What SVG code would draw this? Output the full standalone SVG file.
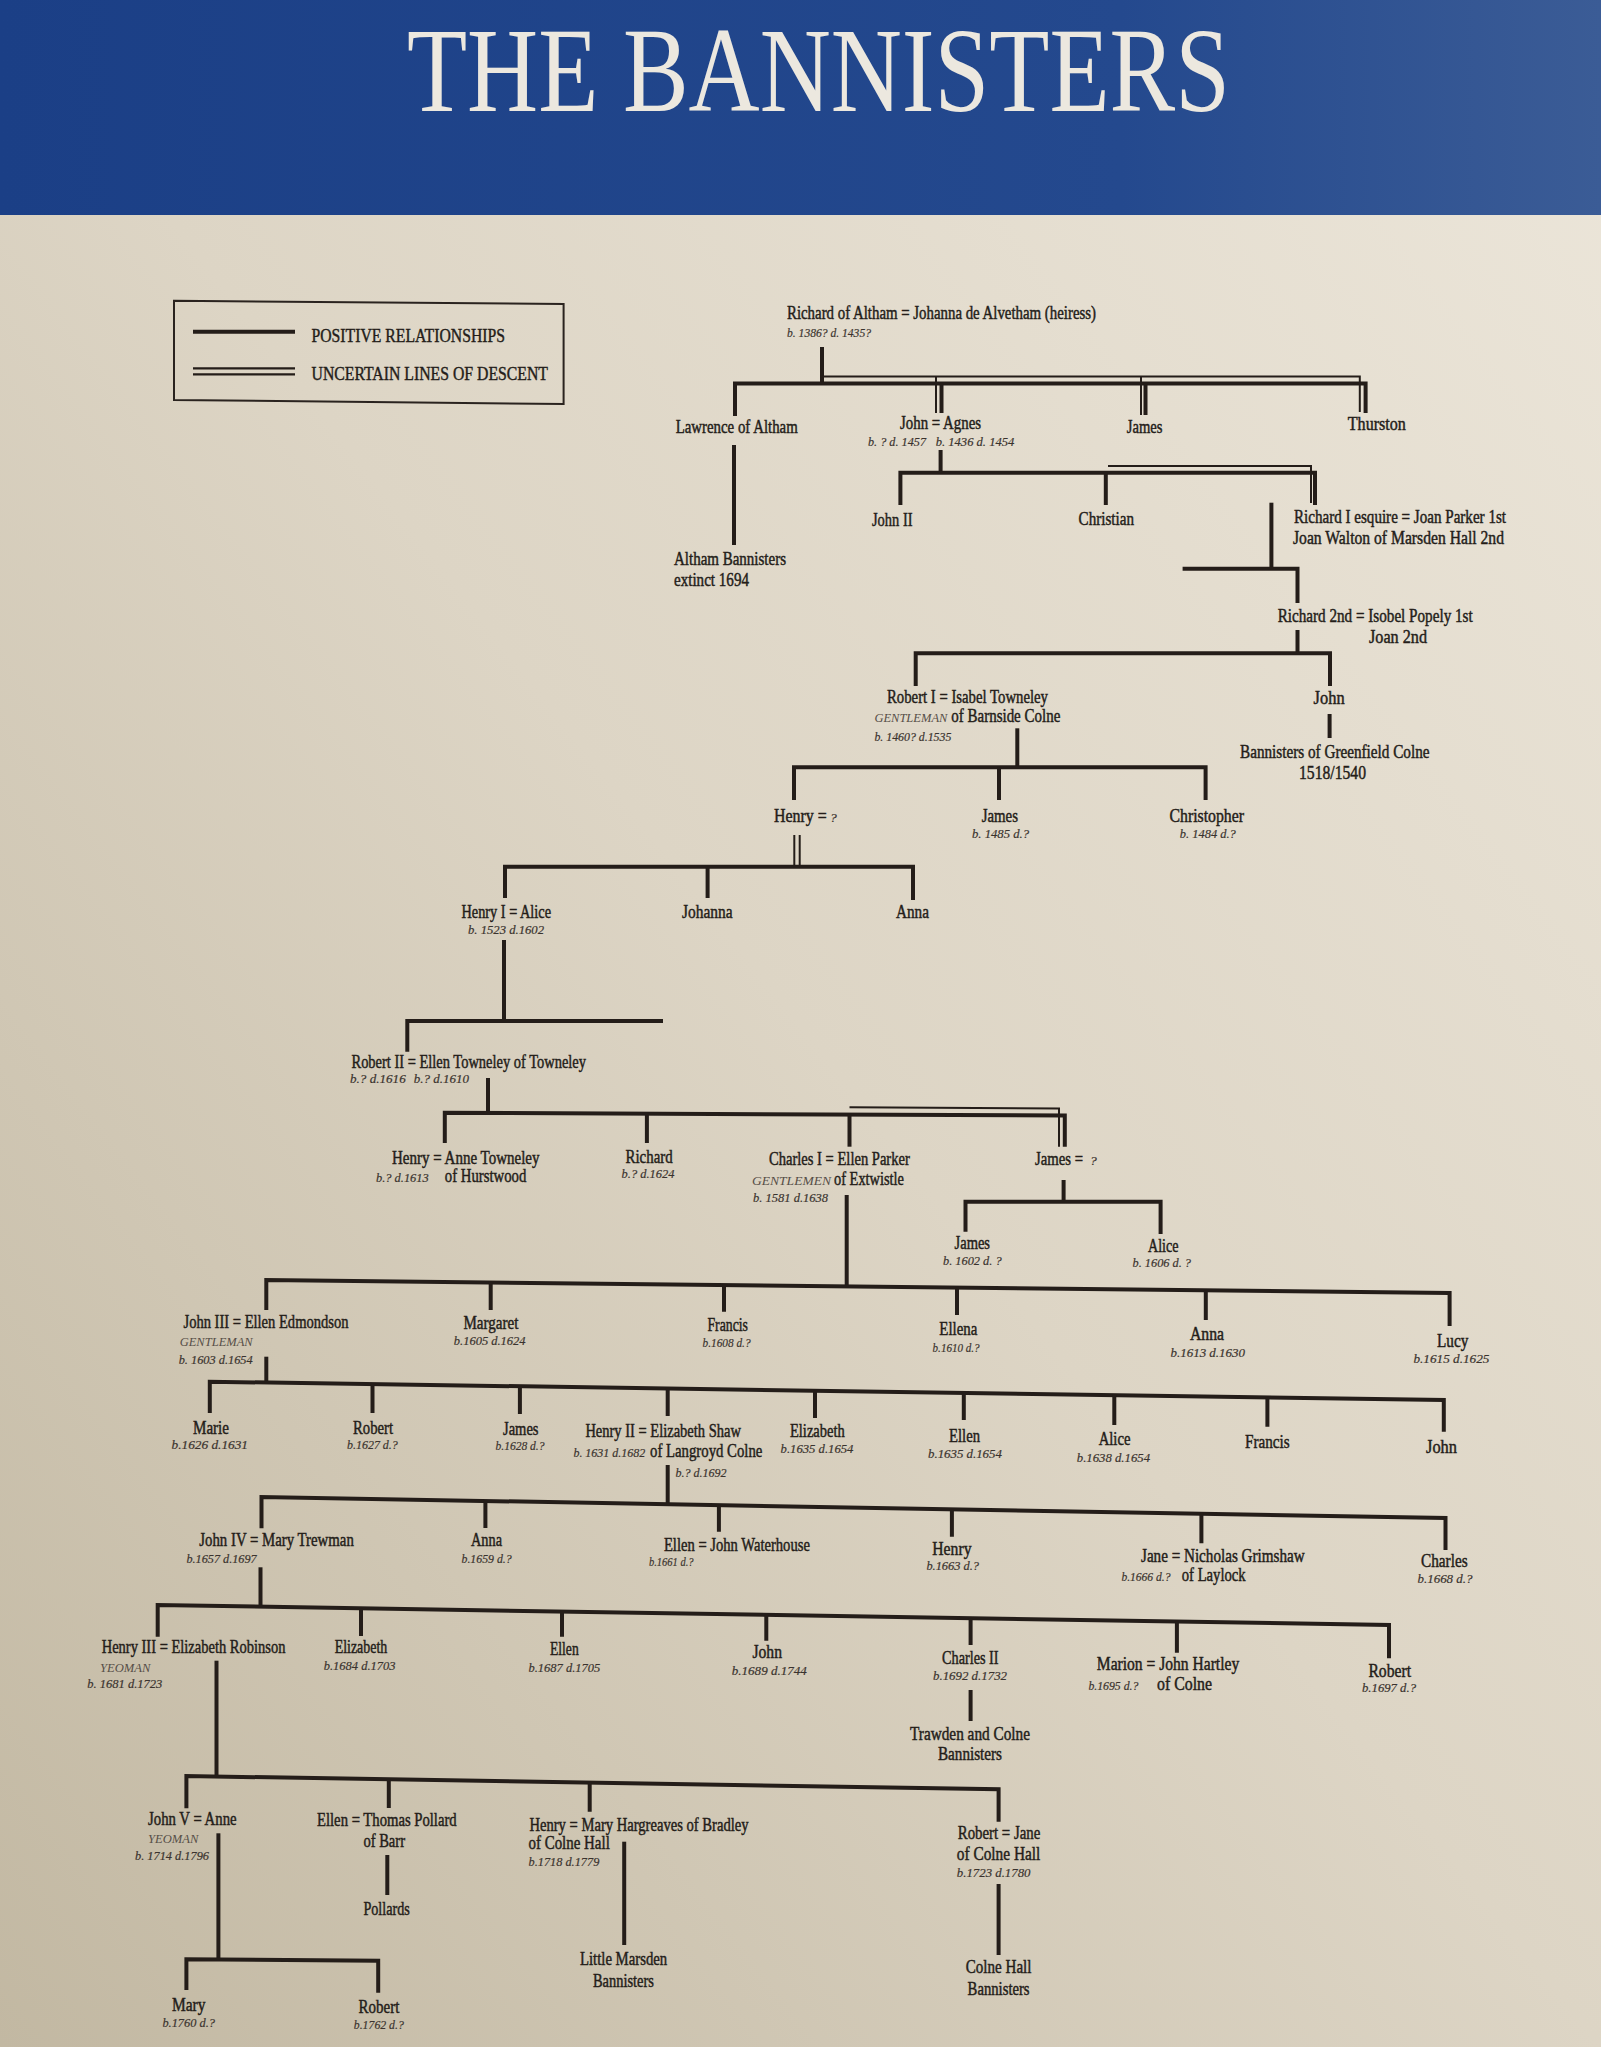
<svg xmlns="http://www.w3.org/2000/svg" width="1601" height="2047" viewBox="0 0 1601 2047">
<defs>
<linearGradient id="paper" x1="1" y1="0" x2="0" y2="1">
<stop offset="0" stop-color="#ece6da"/>
<stop offset="0.5" stop-color="#ddd5c5"/>
<stop offset="1" stop-color="#c2b8a2"/>
</linearGradient>
<linearGradient id="blue" x1="0" y1="0" x2="1" y2="0">
<stop offset="0" stop-color="#1b3f86"/>
<stop offset="0.7" stop-color="#24498e"/>
<stop offset="1" stop-color="#3b5c96"/>
</linearGradient>
<style>
.ln{fill:none;stroke:#241d19;stroke-width:4;stroke-linejoin:miter;stroke-linecap:butt}
.tn{fill:none;stroke:#241d19;stroke-width:2;stroke-linejoin:miter}
text{font-family:"Liberation Serif","DejaVu Serif",serif;fill:#241d19}
.nm{font-size:18px;stroke:#241d19;stroke-width:0.45px}
.dt{font-size:13.5px;font-style:italic;fill:#3a332e;stroke:#3a332e;stroke-width:0.2px}
.rk{font-size:13px;font-style:italic;fill:#564e47}
.lg{font-size:18px;stroke:#241d19;stroke-width:0.4px}
.tt{font-size:120px;fill:#ece8df}
</style>
</defs>
<rect x="0" y="0" width="1601" height="2047" fill="url(#paper)"/>
<g id="header">
<rect x="0" y="0" width="1601" height="215" fill="url(#blue)"/>
<text class="tt" x="407" y="111" textLength="823" lengthAdjust="spacingAndGlyphs">THE BANNISTERS</text>
</g>
<g id="legend">
<path d="M174 300.7 L563.6 304 L563.6 404 L174 400 Z" fill="none" stroke="#2a231f" stroke-width="2"/>
<line x1="193" y1="331.7" x2="295" y2="331.7" stroke="#241d19" stroke-width="4"/>
<line x1="193" y1="368.3" x2="295" y2="368.3" stroke="#241d19" stroke-width="2.3"/>
<line x1="193" y1="374.3" x2="295" y2="374.3" stroke="#241d19" stroke-width="2.3"/>
<text class="lg" x="311.5" y="341.7" textLength="193.5" lengthAdjust="spacingAndGlyphs">POSITIVE RELATIONSHIPS</text>
<text class="lg" x="311.5" y="380" textLength="236.5" lengthAdjust="spacingAndGlyphs">UNCERTAIN LINES OF DESCENT</text>
</g>
<g id="connectors">
<path class="ln" d="M822 347 V383.5"/>
<path class="ln" d="M735 416 V383.5 H1365.6 V413"/>
<path class="ln" d="M941.5 383.5 V413"/>
<path class="ln" d="M1145.5 383.5 V415"/>
<path class="tn" d="M822 376.5 H1359.8 V412"/>
<path class="tn" d="M936 376.5 V413"/>
<path class="tn" d="M1141 376.5 V415"/>
<path class="ln" d="M734 445 V545"/>
<path class="ln" d="M940.6 450 V472.7"/>
<path class="ln" d="M900.4 505 V472.7 H1315 V505"/>
<path class="ln" d="M1105.8 472.7 V505"/>
<path class="tn" d="M1108 466 H1311 V503"/>
<path class="ln" d="M1271.4 502.7 V568.7"/>
<path class="ln" d="M1182.6 568.7 H1297.5 V603"/>
<path class="ln" d="M1297.5 630 V653.3"/>
<path class="ln" d="M915.7 686 V653.3 H1330 V686"/>
<path class="ln" d="M1329.6 714 V738"/>
<path class="ln" d="M1017.3 728.3 V767.3"/>
<path class="ln" d="M794 800 V767.3 H1205.6 V800"/>
<path class="ln" d="M999 767.3 V800"/>
<path class="tn" d="M794.3 835 V866.7"/>
<path class="tn" d="M799.7 835 V866.7"/>
<path class="ln" d="M505 898 V866.7 H913 V900"/>
<path class="ln" d="M707.6 866.7 V898"/>
<path class="ln" d="M504 940 V1021"/>
<path class="ln" d="M407.3 1051.7 V1021 H663"/>
<path class="ln" d="M488 1078 V1112.7"/>
<path class="ln" d="M444.8 1143 V1112.7 L1064.8 1115.5 V1146.7"/>
<path class="ln" d="M646.9 1113.9 V1143"/>
<path class="ln" d="M849.5 1114.7 V1146.7"/>
<path class="tn" d="M849.5 1107.3 L1059 1108.5 V1146.7"/>
<path class="ln" d="M1063.6 1180 V1201.7"/>
<path class="ln" d="M965.5 1231.7 V1201.7 H1160.6 V1234"/>
<path class="ln" d="M846.7 1195 V1286.4"/>
<path class="ln" d="M266.3 1310 V1280 L1449.6 1293 V1326"/>
<path class="ln" d="M490.7 1282.5 V1310 M724 1285 V1311.7 M957 1287.6 V1315 M1205.8 1290.3 V1320"/>
<path class="ln" d="M266.3 1356.7 V1382.5"/>
<path class="ln" d="M209.8 1413 V1381.7 L1443.8 1400 V1431.7"/>
<path class="ln" d="M372.5 1384.1 V1413 M519.9 1386.3 V1414 M667.7 1388.5 V1416 M815 1390.7 V1418 M963.8 1392.9 V1420 M1114.3 1395.1 V1425 M1267.4 1397.4 V1426.7"/>
<path class="ln" d="M667.7 1465 V1504.2"/>
<path class="ln" d="M261.5 1528.3 V1497 L1445.5 1518 V1550"/>
<path class="ln" d="M485.4 1501 V1528 M718.9 1505.1 V1531.7 M951.9 1509.2 V1536.7 M1201.4 1513.7 V1543.3"/>
<path class="ln" d="M260.5 1567.3 V1606.7"/>
<path class="ln" d="M157.7 1636.7 V1605 L1389 1625 V1658.3"/>
<path class="ln" d="M361 1608.3 V1636 M562 1611.6 V1636.7 M766.3 1614.9 V1640.7 M970.6 1618.2 V1645 M1176.9 1621.6 V1652.7"/>
<path class="ln" d="M970.6 1690 V1721"/>
<path class="ln" d="M216.5 1660.7 V1776.5"/>
<path class="ln" d="M186.4 1808.3 V1776 L998.6 1789.3 V1821.7"/>
<path class="ln" d="M388.8 1779.3 V1808 M589.7 1782.6 V1811.7"/>
<path class="ln" d="M218.4 1833.3 V1959.3"/>
<path class="ln" d="M186.4 1990 V1959.3 L378.2 1960.7 V1992.7"/>
<path class="ln" d="M387.3 1855 V1895"/>
<path class="ln" d="M624.2 1841.7 V1945"/>
<path class="ln" d="M998.6 1884 V1955"/>
</g>
<g id="n-richard-altham">
<text class="nm" x="787" y="319" textLength="309" lengthAdjust="spacingAndGlyphs">Richard of Altham = Johanna de Alvetham (heiress)</text>
<text class="dt" x="787" y="337" textLength="84" lengthAdjust="spacingAndGlyphs">b. 1386? d. 1435?</text>
</g>
<g id="n-lawrence">
<text class="nm" x="675.7" y="433.3" textLength="122" lengthAdjust="spacingAndGlyphs">Lawrence of Altham</text>
</g>
<g id="n-altham-bannisters">
<text class="nm" x="674" y="565" textLength="112" lengthAdjust="spacingAndGlyphs">Altham Bannisters</text>
<text class="nm" x="674" y="586" textLength="75" lengthAdjust="spacingAndGlyphs">extinct 1694</text>
</g>
<g id="n-john-agnes">
<text class="nm" x="900" y="429" textLength="81" lengthAdjust="spacingAndGlyphs">John = Agnes</text>
<text class="dt" x="868" y="445.7" textLength="58" lengthAdjust="spacingAndGlyphs">b. ? d. 1457</text>
<text class="dt" x="935.7" y="445.7" textLength="78.6" lengthAdjust="spacingAndGlyphs">b. 1436 d. 1454</text>
</g>
<g id="n-james-1">
<text class="nm" x="1126.8" y="432.7" textLength="35.7" lengthAdjust="spacingAndGlyphs">James</text>
</g>
<g id="n-thurston">
<text class="nm" x="1347.8" y="430" textLength="58" lengthAdjust="spacingAndGlyphs">Thurston</text>
</g>
<g id="n-john-ii">
<text class="nm" x="872" y="525.7" textLength="40.5" lengthAdjust="spacingAndGlyphs">John II</text>
</g>
<g id="n-christian">
<text class="nm" x="1078.6" y="525" textLength="55.4" lengthAdjust="spacingAndGlyphs">Christian</text>
</g>
<g id="n-richard-i">
<text class="nm" x="1294" y="522.7" textLength="212" lengthAdjust="spacingAndGlyphs">Richard I esquire = Joan Parker 1st</text>
<text class="nm" x="1293" y="544" textLength="211" lengthAdjust="spacingAndGlyphs">Joan Walton of Marsden Hall 2nd</text>
</g>
<g id="n-richard-2nd">
<text class="nm" x="1277.7" y="621.7" textLength="195" lengthAdjust="spacingAndGlyphs">Richard 2nd = Isobel Popely 1st</text>
<text class="nm" x="1369" y="642.7" textLength="58" lengthAdjust="spacingAndGlyphs">Joan 2nd</text>
</g>
<g id="n-robert-i">
<text class="nm" x="887" y="702.7" textLength="161" lengthAdjust="spacingAndGlyphs">Robert I = Isabel Towneley</text>
<text class="rk" x="874.4" y="721.7" textLength="73" lengthAdjust="spacingAndGlyphs">GENTLEMAN</text>
<text class="nm" x="951.3" y="721.7" textLength="109" lengthAdjust="spacingAndGlyphs">of Barnside Colne</text>
<text class="dt" x="874.4" y="740.7" textLength="77" lengthAdjust="spacingAndGlyphs">b. 1460? d.1535</text>
</g>
<g id="n-john-greenfield">
<text class="nm" x="1313.6" y="704" textLength="31" lengthAdjust="spacingAndGlyphs">John</text>
</g>
<g id="n-greenfield">
<text class="nm" x="1240" y="758.3" textLength="189.5" lengthAdjust="spacingAndGlyphs">Bannisters of Greenfield Colne</text>
<text class="nm" x="1299" y="779.3" textLength="67" lengthAdjust="spacingAndGlyphs">1518/1540</text>
</g>
<g id="n-henry">
<text class="nm" x="774" y="821.7" textLength="52.8" lengthAdjust="spacingAndGlyphs">Henry =</text>
<text class="dt" x="830" y="821.7">?</text>
</g>
<g id="n-james-2">
<text class="nm" x="981.7" y="821.7" textLength="36.3" lengthAdjust="spacingAndGlyphs">James</text>
<text class="dt" x="972" y="838.3" textLength="57" lengthAdjust="spacingAndGlyphs">b. 1485 d.?</text>
</g>
<g id="n-christopher">
<text class="nm" x="1169.5" y="821.7" textLength="74.5" lengthAdjust="spacingAndGlyphs">Christopher</text>
<text class="dt" x="1179.8" y="838" textLength="56" lengthAdjust="spacingAndGlyphs">b. 1484 d.?</text>
</g>
<g id="n-henry-i">
<text class="nm" x="461.5" y="918.3" textLength="89.5" lengthAdjust="spacingAndGlyphs">Henry I = Alice</text>
<text class="dt" x="468" y="934" textLength="76" lengthAdjust="spacingAndGlyphs">b. 1523 d.1602</text>
</g>
<g id="n-johanna">
<text class="nm" x="682" y="918" textLength="50.5" lengthAdjust="spacingAndGlyphs">Johanna</text>
</g>
<g id="n-anna-1">
<text class="nm" x="896" y="918" textLength="33" lengthAdjust="spacingAndGlyphs">Anna</text>
</g>
<g id="n-robert-ii">
<text class="nm" x="351.5" y="1068.3" textLength="234.5" lengthAdjust="spacingAndGlyphs">Robert II = Ellen Towneley of Towneley</text>
<text class="dt" x="350" y="1083.3" textLength="55.7" lengthAdjust="spacingAndGlyphs">b.? d.1616</text>
<text class="dt" x="413.8" y="1083.3" textLength="55.2" lengthAdjust="spacingAndGlyphs">b.? d.1610</text>
</g>
<g id="n-henry-anne">
<text class="nm" x="392" y="1164" textLength="147.5" lengthAdjust="spacingAndGlyphs">Henry = Anne Towneley</text>
<text class="dt" x="376" y="1181.7" textLength="52.7" lengthAdjust="spacingAndGlyphs">b.? d.1613</text>
<text class="nm" x="444.8" y="1181.7" textLength="81.5" lengthAdjust="spacingAndGlyphs">of Hurstwood</text>
</g>
<g id="n-richard-3">
<text class="nm" x="625.6" y="1162.7" textLength="47" lengthAdjust="spacingAndGlyphs">Richard</text>
<text class="dt" x="621.6" y="1178.3" textLength="52.8" lengthAdjust="spacingAndGlyphs">b.? d.1624</text>
</g>
<g id="n-charles-i">
<text class="nm" x="769" y="1165" textLength="140.8" lengthAdjust="spacingAndGlyphs">Charles I = Ellen Parker</text>
<text class="rk" x="752" y="1185" textLength="79" lengthAdjust="spacingAndGlyphs">GENTLEMEN</text>
<text class="nm" x="834" y="1185" textLength="70" lengthAdjust="spacingAndGlyphs">of Extwistle</text>
<text class="dt" x="753" y="1201.7" textLength="75" lengthAdjust="spacingAndGlyphs">b. 1581 d.1638</text>
</g>
<g id="n-james-3">
<text class="nm" x="1035" y="1165" textLength="48" lengthAdjust="spacingAndGlyphs">James =</text>
<text class="dt" x="1090" y="1165">?</text>
</g>
<g id="n-james-4">
<text class="nm" x="954.6" y="1249.3" textLength="35.4" lengthAdjust="spacingAndGlyphs">James</text>
<text class="dt" x="943" y="1265" textLength="58.6" lengthAdjust="spacingAndGlyphs">b. 1602 d. ?</text>
</g>
<g id="n-alice-1">
<text class="nm" x="1148" y="1251.7" textLength="30.5" lengthAdjust="spacingAndGlyphs">Alice</text>
<text class="dt" x="1132.5" y="1266.7" textLength="58.5" lengthAdjust="spacingAndGlyphs">b. 1606 d. ?</text>
</g>
<g id="n-john-iii">
<text class="nm" x="183.5" y="1328.3" textLength="165" lengthAdjust="spacingAndGlyphs">John III = Ellen Edmondson</text>
<text class="rk" x="179.7" y="1346" textLength="73" lengthAdjust="spacingAndGlyphs">GENTLEMAN</text>
<text class="dt" x="178.7" y="1364" textLength="74" lengthAdjust="spacingAndGlyphs">b. 1603 d.1654</text>
</g>
<g id="n-margaret">
<text class="nm" x="463.4" y="1329.3" textLength="55" lengthAdjust="spacingAndGlyphs">Margaret</text>
<text class="dt" x="453.8" y="1345" textLength="71.8" lengthAdjust="spacingAndGlyphs">b.1605 d.1624</text>
</g>
<g id="n-francis-1">
<text class="nm" x="707.4" y="1330.7" textLength="40.6" lengthAdjust="spacingAndGlyphs">Francis</text>
<text class="dt" x="702.6" y="1346.7" textLength="48" lengthAdjust="spacingAndGlyphs">b.1608 d.?</text>
</g>
<g id="n-ellena">
<text class="nm" x="939.3" y="1335" textLength="38" lengthAdjust="spacingAndGlyphs">Ellena</text>
<text class="dt" x="932.6" y="1351.7" textLength="47" lengthAdjust="spacingAndGlyphs">b.1610 d.?</text>
</g>
<g id="n-anna-2">
<text class="nm" x="1190" y="1340" textLength="34" lengthAdjust="spacingAndGlyphs">Anna</text>
<text class="dt" x="1170.5" y="1356.7" textLength="74.5" lengthAdjust="spacingAndGlyphs">b.1613 d.1630</text>
</g>
<g id="n-lucy">
<text class="nm" x="1437" y="1346.7" textLength="31.3" lengthAdjust="spacingAndGlyphs">Lucy</text>
<text class="dt" x="1413.4" y="1362.7" textLength="76" lengthAdjust="spacingAndGlyphs">b.1615 d.1625</text>
</g>
<g id="n-marie">
<text class="nm" x="193" y="1434" textLength="36" lengthAdjust="spacingAndGlyphs">Marie</text>
<text class="dt" x="171.5" y="1449.3" textLength="76.5" lengthAdjust="spacingAndGlyphs">b.1626 d.1631</text>
</g>
<g id="n-robert-3">
<text class="nm" x="353" y="1434" textLength="40" lengthAdjust="spacingAndGlyphs">Robert</text>
<text class="dt" x="347" y="1449" textLength="50.8" lengthAdjust="spacingAndGlyphs">b.1627 d.?</text>
</g>
<g id="n-james-5">
<text class="nm" x="503" y="1435" textLength="35.5" lengthAdjust="spacingAndGlyphs">James</text>
<text class="dt" x="495.5" y="1450" textLength="49" lengthAdjust="spacingAndGlyphs">b.1628 d.?</text>
</g>
<g id="n-henry-ii">
<text class="nm" x="585.4" y="1436.7" textLength="155.5" lengthAdjust="spacingAndGlyphs">Henry II = Elizabeth Shaw</text>
<text class="dt" x="573.4" y="1456.7" textLength="71.8" lengthAdjust="spacingAndGlyphs">b. 1631 d.1682</text>
<text class="nm" x="650" y="1456.7" textLength="112.4" lengthAdjust="spacingAndGlyphs">of Langroyd Colne</text>
<text class="dt" x="675.4" y="1476.7" textLength="51.2" lengthAdjust="spacingAndGlyphs">b.? d.1692</text>
</g>
<g id="n-elizabeth-1">
<text class="nm" x="790" y="1436.7" textLength="54.7" lengthAdjust="spacingAndGlyphs">Elizabeth</text>
<text class="dt" x="780.6" y="1453.3" textLength="72.8" lengthAdjust="spacingAndGlyphs">b.1635 d.1654</text>
</g>
<g id="n-ellen-1">
<text class="nm" x="949" y="1441.7" textLength="31" lengthAdjust="spacingAndGlyphs">Ellen</text>
<text class="dt" x="928" y="1457.7" textLength="73.8" lengthAdjust="spacingAndGlyphs">b.1635 d.1654</text>
</g>
<g id="n-alice-2">
<text class="nm" x="1098.7" y="1445" textLength="31.7" lengthAdjust="spacingAndGlyphs">Alice</text>
<text class="dt" x="1076.8" y="1461.7" textLength="73.2" lengthAdjust="spacingAndGlyphs">b.1638 d.1654</text>
</g>
<g id="n-francis-2">
<text class="nm" x="1245" y="1448.3" textLength="44.7" lengthAdjust="spacingAndGlyphs">Francis</text>
</g>
<g id="n-john-2">
<text class="nm" x="1426" y="1453.3" textLength="31" lengthAdjust="spacingAndGlyphs">John</text>
</g>
<g id="n-john-iv">
<text class="nm" x="199.3" y="1546" textLength="154.5" lengthAdjust="spacingAndGlyphs">John IV = Mary Trewman</text>
<text class="dt" x="186.4" y="1562.7" textLength="70.3" lengthAdjust="spacingAndGlyphs">b.1657 d.1697</text>
</g>
<g id="n-anna-3">
<text class="nm" x="471" y="1546" textLength="31" lengthAdjust="spacingAndGlyphs">Anna</text>
<text class="dt" x="461.5" y="1562.7" textLength="50.2" lengthAdjust="spacingAndGlyphs">b.1659 d.?</text>
</g>
<g id="n-ellen-waterhouse">
<text class="nm" x="663.9" y="1550.7" textLength="146" lengthAdjust="spacingAndGlyphs">Ellen = John Waterhouse</text>
<text class="dt" x="649" y="1566" textLength="44.5" lengthAdjust="spacingAndGlyphs">b.1661 d.?</text>
</g>
<g id="n-henry-3">
<text class="nm" x="932.3" y="1555" textLength="39.2" lengthAdjust="spacingAndGlyphs">Henry</text>
<text class="dt" x="926.4" y="1570" textLength="52.6" lengthAdjust="spacingAndGlyphs">b.1663 d.?</text>
</g>
<g id="n-jane-grimshaw">
<text class="nm" x="1141" y="1561.7" textLength="163.6" lengthAdjust="spacingAndGlyphs">Jane = Nicholas Grimshaw</text>
<text class="dt" x="1121.4" y="1580.7" textLength="49" lengthAdjust="spacingAndGlyphs">b.1666 d.?</text>
<text class="nm" x="1181.8" y="1580.7" textLength="63.8" lengthAdjust="spacingAndGlyphs">of Laylock</text>
</g>
<g id="n-charles">
<text class="nm" x="1421" y="1567.3" textLength="46.6" lengthAdjust="spacingAndGlyphs">Charles</text>
<text class="dt" x="1417.5" y="1583.3" textLength="55" lengthAdjust="spacingAndGlyphs">b.1668 d.?</text>
</g>
<g id="n-henry-iii">
<text class="nm" x="101.7" y="1653.3" textLength="183.7" lengthAdjust="spacingAndGlyphs">Henry III = Elizabeth Robinson</text>
<text class="rk" x="100" y="1671.7" textLength="50.5" lengthAdjust="spacingAndGlyphs">YEOMAN</text>
<text class="dt" x="87.3" y="1688.3" textLength="75" lengthAdjust="spacingAndGlyphs">b. 1681 d.1723</text>
</g>
<g id="n-elizabeth-2">
<text class="nm" x="334.7" y="1653.3" textLength="52.6" lengthAdjust="spacingAndGlyphs">Elizabeth</text>
<text class="dt" x="323.7" y="1670" textLength="71.8" lengthAdjust="spacingAndGlyphs">b.1684 d.1703</text>
</g>
<g id="n-ellen-2">
<text class="nm" x="550" y="1655" textLength="28.7" lengthAdjust="spacingAndGlyphs">Ellen</text>
<text class="dt" x="528.5" y="1671.7" textLength="71.7" lengthAdjust="spacingAndGlyphs">b.1687 d.1705</text>
</g>
<g id="n-john-3">
<text class="nm" x="752.4" y="1658.3" textLength="29.6" lengthAdjust="spacingAndGlyphs">John</text>
<text class="dt" x="731.8" y="1675" textLength="75" lengthAdjust="spacingAndGlyphs">b.1689 d.1744</text>
</g>
<g id="n-charles-ii">
<text class="nm" x="942" y="1664" textLength="56.6" lengthAdjust="spacingAndGlyphs">Charles II</text>
<text class="dt" x="933" y="1680" textLength="74" lengthAdjust="spacingAndGlyphs">b.1692 d.1732</text>
</g>
<g id="n-trawden">
<text class="nm" x="910" y="1740" textLength="120" lengthAdjust="spacingAndGlyphs">Trawden and Colne</text>
<text class="nm" x="938" y="1760" textLength="64" lengthAdjust="spacingAndGlyphs">Bannisters</text>
</g>
<g id="n-marion-hartley">
<text class="nm" x="1096.8" y="1670" textLength="142.4" lengthAdjust="spacingAndGlyphs">Marion = John Hartley</text>
<text class="dt" x="1088.4" y="1690" textLength="50" lengthAdjust="spacingAndGlyphs">b.1695 d.?</text>
<text class="nm" x="1157" y="1690" textLength="55" lengthAdjust="spacingAndGlyphs">of Colne</text>
</g>
<g id="n-robert-4">
<text class="nm" x="1368.4" y="1676.7" textLength="42.6" lengthAdjust="spacingAndGlyphs">Robert</text>
<text class="dt" x="1362" y="1691.7" textLength="54" lengthAdjust="spacingAndGlyphs">b.1697 d.?</text>
</g>
<g id="n-john-v">
<text class="nm" x="148" y="1825" textLength="88.6" lengthAdjust="spacingAndGlyphs">John V = Anne</text>
<text class="rk" x="148" y="1842.7" textLength="50.3" lengthAdjust="spacingAndGlyphs">YEOMAN</text>
<text class="dt" x="135" y="1860" textLength="74" lengthAdjust="spacingAndGlyphs">b. 1714 d.1796</text>
</g>
<g id="n-mary">
<text class="nm" x="172" y="2010.7" textLength="33.5" lengthAdjust="spacingAndGlyphs">Mary</text>
<text class="dt" x="162.4" y="2026.7" textLength="52.6" lengthAdjust="spacingAndGlyphs">b.1760 d.?</text>
</g>
<g id="n-robert-5">
<text class="nm" x="358.6" y="2012.7" textLength="40.7" lengthAdjust="spacingAndGlyphs">Robert</text>
<text class="dt" x="353.8" y="2029.3" textLength="50" lengthAdjust="spacingAndGlyphs">b.1762 d.?</text>
</g>
<g id="n-ellen-pollard">
<text class="nm" x="317" y="1826" textLength="139.7" lengthAdjust="spacingAndGlyphs">Ellen = Thomas Pollard</text>
<text class="nm" x="363.4" y="1847.3" textLength="41.6" lengthAdjust="spacingAndGlyphs">of Barr</text>
</g>
<g id="n-pollards">
<text class="nm" x="363.4" y="1915" textLength="46.4" lengthAdjust="spacingAndGlyphs">Pollards</text>
</g>
<g id="n-henry-hargreaves">
<text class="nm" x="529.4" y="1830.7" textLength="219.2" lengthAdjust="spacingAndGlyphs">Henry = Mary Hargreaves of Bradley</text>
<text class="nm" x="528.5" y="1849.3" textLength="81.3" lengthAdjust="spacingAndGlyphs">of Colne Hall</text>
<text class="dt" x="528.5" y="1866" textLength="70.8" lengthAdjust="spacingAndGlyphs">b.1718 d.1779</text>
</g>
<g id="n-little-marsden">
<text class="nm" x="580" y="1965" textLength="87.2" lengthAdjust="spacingAndGlyphs">Little Marsden</text>
<text class="nm" x="593" y="1986.7" textLength="60.8" lengthAdjust="spacingAndGlyphs">Bannisters</text>
</g>
<g id="n-robert-jane">
<text class="nm" x="957.8" y="1839.3" textLength="82.5" lengthAdjust="spacingAndGlyphs">Robert = Jane</text>
<text class="nm" x="956.8" y="1860" textLength="83.5" lengthAdjust="spacingAndGlyphs">of Colne Hall</text>
<text class="dt" x="956.8" y="1877.3" textLength="73.7" lengthAdjust="spacingAndGlyphs">b.1723 d.1780</text>
</g>
<g id="n-colne-hall">
<text class="nm" x="965.7" y="1973.3" textLength="65.8" lengthAdjust="spacingAndGlyphs">Colne Hall</text>
<text class="nm" x="967.6" y="1995" textLength="62" lengthAdjust="spacingAndGlyphs">Bannisters</text>
</g>
</svg>
